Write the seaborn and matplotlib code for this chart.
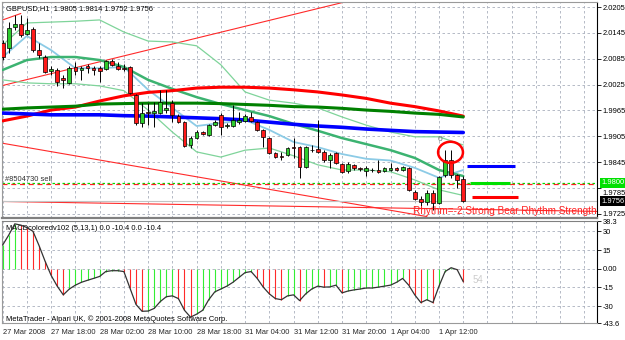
import numpy as np
import matplotlib
matplotlib.use("Agg")
import matplotlib.pyplot as plt
import matplotlib.transforms as mtransforms
from matplotlib.patches import Ellipse
import seaborn as sns

# candles, GBPUSD H1
opens = [2.0121, 2.0110, 2.0159, 2.0166, 2.0142, 2.0154, 2.0105, 2.0089, 2.0057, 2.0059,
         2.0040, 2.0029, 2.0066, 2.0059, 2.0068, 2.0063, 2.0063, 2.0061, 2.0080, 2.0068,
         2.0063, 2.0066, 2.0001, 1.9936, 1.9961, 1.9959, 1.9959, 1.9966, 1.9982, 1.9952,
         1.9938, 1.9885, 1.9901, 1.9915, 1.9908, 1.9931, 1.9954, 1.9929, 1.9929, 1.9938,
         1.9941, 1.9950, 1.9938, 1.9920, 1.9901, 1.9866, 1.9860, 1.9862, 1.9880, 1.9880,
         1.9834, 1.9873, 1.9876, 1.9869, 1.9850, 1.9866, 1.9841, 1.9825, 1.9839, 1.9832,
         1.9825, 1.9827, 1.9827, 1.9825, 1.9827, 1.9832, 1.9827, 1.9832, 1.9776, 1.9760,
         1.9753, 1.9774, 1.9751, 1.9815, 1.9850, 1.9815, 1.9805]
highs = [2.0128, 2.0170, 2.0186, 2.0186, 2.0179, 2.0159, 2.0121, 2.0094, 2.0068, 2.0063,
         2.0047, 2.0068, 2.0077, 2.0068, 2.0073, 2.0068, 2.0068, 2.0082, 2.0084, 2.0077,
         2.0073, 2.0068, 2.0003, 1.9982, 1.9982, 1.9985, 2.0013, 2.0013, 1.9989, 1.9957,
         1.9940, 1.9906, 1.9920, 1.9917, 1.9934, 1.9943, 1.9959, 1.9936, 1.9978, 1.9961,
         1.9957, 1.9961, 1.9940, 1.9922, 1.9904, 1.9869, 1.9869, 1.9880, 1.9901, 1.9882,
         1.9882, 1.9885, 1.9943, 1.9873, 1.9866, 1.9869, 1.9843, 1.9846, 1.9841, 1.9834,
         1.9836, 1.9832, 1.9850, 1.9834, 1.9843, 1.9834, 1.9836, 1.9834, 1.9781, 1.9767,
         1.9781, 1.9781, 1.9813, 1.9873, 1.9873, 1.9818, 1.9814]
lows = [2.0082, 2.0098, 2.0152, 2.0135, 2.0140, 2.0101, 2.0087, 2.0052, 2.0047, 2.0022,
        2.0017, 2.0026, 2.0047, 2.0036, 2.0052, 2.0047, 2.0031, 2.0059, 2.0068, 2.0059,
        2.0057, 2.0003, 1.9931, 1.9927, 1.9931, 1.9927, 1.9957, 1.9959, 1.9938, 1.9936,
        1.9880, 1.9878, 1.9899, 1.9908, 1.9906, 1.9929, 1.9908, 1.9924, 1.9927, 1.9934,
        1.9938, 1.9938, 1.9917, 1.9880, 1.9864, 1.9855, 1.9850, 1.9860, 1.9855, 1.9809,
        1.9832, 1.9869, 1.9866, 1.9846, 1.9832, 1.9841, 1.9820, 1.9820, 1.9827, 1.9825,
        1.9813, 1.9823, 1.9820, 1.9823, 1.9825, 1.9825, 1.9825, 1.9778, 1.9757, 1.9739,
        1.9746, 1.9734, 1.9748, 1.9811, 1.9809, 1.9785, 1.9752]
closes = [2.0089, 2.0156, 2.0166, 2.0140, 2.0152, 2.0105, 2.0094, 2.0054, 2.0061, 2.0031,
          2.0036, 2.0063, 2.0057, 2.0063, 2.0063, 2.0059, 2.0057, 2.0080, 2.0071, 2.0061,
          2.0061, 2.0006, 1.9936, 1.9959, 1.9959, 1.9964, 1.9985, 1.9971, 1.9954, 1.9938,
          1.9883, 1.9901, 1.9915, 1.9910, 1.9931, 1.9938, 1.9927, 1.9931, 1.9943, 1.9943,
          1.9952, 1.9941, 1.9920, 1.9904, 1.9866, 1.9857, 1.9858, 1.9878, 1.9879, 1.9834,
          1.9880, 1.9874, 1.9869, 1.9850, 1.9862, 1.9843, 1.9822, 1.9841, 1.9832, 1.9829,
          1.9832, 1.9828, 1.9822, 1.9832, 1.9832, 1.9827, 1.9834, 1.9781, 1.9760, 1.9753,
          1.9774, 1.9751, 1.9811, 1.9850, 1.9815, 1.9804, 1.9756]

# indicator lines, sampled every 4 bars
ma_bars = list(range(0, 77, 4))
red_ma = [1.9941, 1.9952, 1.9966, 1.9973, 1.9987, 1.9999, 2.0007, 2.0011, 2.0017, 2.0019,
          2.0019, 2.0017, 2.0013, 2.0008, 2.0001, 1.9993, 1.9982, 1.9974, 1.9964, 1.9952]
green_ma = [1.9968, 1.9971, 1.9973, 1.9975, 1.9980, 1.9981, 1.9982, 1.9982, 1.9982, 1.9981,
            1.9979, 1.9977, 1.9974, 1.9973, 1.9970, 1.9966, 1.9963, 1.9959, 1.9956, 1.9950]
blue_ma = [1.9959, 1.9957, 1.9955, 1.9955, 1.9955, 1.9953, 1.9952, 1.9950, 1.9948, 1.9946,
           1.9943, 1.9938, 1.9933, 1.9929, 1.9926, 1.9922, 1.9919, 1.9916, 1.9915, 1.9914]
fast_ma = [2.0089, 2.0138, 2.0105, 2.0063, 2.0063, 2.0066, 2.0013, 1.9971, 1.9929, 1.9936,
           1.9943, 1.9920, 1.9892, 1.9880, 1.9864, 1.9853, 1.9849, 1.9832, 1.9809, 1.9827]
mid_ma = [2.0059, 2.0082, 2.0089, 2.0089, 2.0082, 2.0066, 2.0036, 2.0015, 1.9996, 1.9980,
          1.9966, 1.9952, 1.9934, 1.9918, 1.9901, 1.9887, 1.9873, 1.9855, 1.9827, 1.9813]
band_up = [2.0117, 2.0168, 2.0170, 2.0172, 2.0175, 2.0147, 2.0126, 2.0124, 2.0115, 2.0071,
           2.0008, 1.9989, 1.9982, 1.9971, 1.9950, 1.9931, 1.9915, 1.9904, 1.9904, 1.9885]
band_lo = [2.0036, 2.0029, 2.0027, 2.0027, 2.0022, 2.0011, 1.9966, 1.9915, 1.9869, 1.9857,
           1.9873, 1.9878, 1.9860, 1.9839, 1.9827, 1.9827, 1.9823, 1.9804, 1.9781, 1.9768]

# trend lines drawn on the chart: (bar0, price0, bar1, price1)
trend_lines = [(0, 2.0023, 58, 2.0222),
               (0, 2.0175, 3, 2.0190),
               (0, 1.9889, 70, 1.9719),
               (0, 1.9754, 98, 1.9731)]

# short level marks on the right
level_prices = [1.9836, 1.9796, 1.9765]
level_start = [76.6, 77.1, 77.4]
level_end = [84.5, 83.7, 85.0]
level_colors = ['#0000ff', '#00e000', '#ff0000']

macd = [19, 27, 36, 35, 33, 30, 18.6, 6, -5.4, -14,
        -21, -16.3, -13.2, -10.9, -9.3, -7.8, -6.2, -2.3, -1.6, -1.6,
        -2.3, -15.5, -28.7, -34.2, -34, -31.9, -26.4, -22.5, -21.8, -24,
        -33.4, -38.9, -36.5, -33.4, -24.9, -18.6, -16.3, -14, -10.9, -7,
        -3.1, -2.3, -7.8, -14.8, -20.2, -24, -24.9, -21.8, -21, -25.6,
        -20.2, -16.3, -14, -14.8, -14.6, -13.2, -19.4, -17.9, -17, -16.3,
        -15.5, -15.5, -14.8, -14, -13.2, -10.9, -7.8, -13.2, -21, -27.2,
        -24.9, -27.2, -14, -2.3, 0.8, -0.8, -10.4]

time_labels = ['27 Mar 2008', '27 Mar 18:00', '28 Mar 02:00', '28 Mar 10:00', '28 Mar 18:00',
               '31 Mar 04:00', '31 Mar 12:00', '31 Mar 20:00', '1 Apr 04:00', '1 Apr 12:00']
price_ticks = [2.0205, 2.0145, 2.0085, 2.0025, 1.9965, 1.9905, 1.9845, 1.9785, 1.9725]
macd_ticks = [38.3, 30, 15, 0, -15, -30, -43.6]
macd_tick_labels = ['38.3', '30', '15', '0.00', '-15', '-30', '-43.6']

sns.set_style("white")
plt.rcParams['font.family'] = ['Liberation Sans', 'DejaVu Sans']
plt.rcParams['font.size'] = 5.4

FS = 5.4
GRID = '#a9b0bd'
fig = plt.figure(figsize=(6.25, 3.4), dpi=100)
ax = fig.add_axes([2 / 625, 1 - 218 / 340, 595 / 625, 216 / 340])
ax2 = fig.add_axes([2 / 625, 1 - 323 / 340, 595 / 625, 102 / 340])

bars = np.arange(len(closes))
o = np.array(opens)
c = np.array(closes)

for a in (ax, ax2):
    a.set_xlim(-0.11, 98.07)
    a.grid(True, which='both', color=GRID, ls=(0, (3, 3)), lw=0.6)
    a.set_axisbelow(True)
    for side in ['left', 'top', 'bottom']:
        a.spines[side].set_color('#9a9a9a')
        a.spines[side].set_linewidth(0.8)
    a.spines['right'].set_color('black')
    a.spines['right'].set_linewidth(0.8)
    a.yaxis.tick_right()
    a.tick_params(axis='y', length=3, width=0.6, pad=1.2, labelsize=FS, colors='black')
ax.spines['bottom'].set_linewidth(1.6)
ax.spines['bottom'].set_color('#808080')
ax2.spines['top'].set_color('#808080')

# ---- main price panel ----
ax.set_ylim(1.97157, 2.02166)
ax.set_yticks(price_ticks)
ax.set_yticklabels([f'{p:.4f}' for p in price_ticks])
ax.set_xticks(range(0, 99, 4))
ax.tick_params(axis='x', length=0, labelbottom=False)
# MetaTrader pushes the 1.9785 label down below the order label
shift = mtransforms.ScaledTranslation(0, -3.5 / 72, fig.dpi_scale_trans)
for lbl in ax.get_yticklabels():
    if lbl.get_text() == '1.9785':
        lbl.set_transform(lbl.get_transform() + shift)

for b0, p0, b1, p1 in trend_lines:
    ax.plot([b0, b1], [p0, p1], color='#ff2a2a', lw=0.8, zorder=2)

ax.axhline(closes[-1], color='#c4c4c4', lw=0.8, zorder=2)
ax.axhline(1.9798, color='#00dd00', ls=(0, (2, 2)), lw=0.9, zorder=2)
ax.axhline(1.9795, color='#ff2020', ls=(0, (4, 3)), lw=0.9, zorder=2)

sns.lineplot(x=ma_bars, y=band_up, ax=ax, color='#7fd49a', lw=0.9, zorder=3)
sns.lineplot(x=ma_bars, y=band_lo, ax=ax, color='#7fd49a', lw=0.9, zorder=3)
sns.lineplot(x=ma_bars, y=fast_ma, ax=ax, color='#8ccbe6', lw=1.3, zorder=3)
sns.lineplot(x=ma_bars, y=mid_ma, ax=ax, color='#3cb371', lw=1.8, zorder=3)
sns.lineplot(x=ma_bars, y=red_ma, ax=ax, color='#ff0000', lw=2.2, zorder=3)
sns.lineplot(x=ma_bars, y=green_ma, ax=ax, color='#008000', lw=2.2, zorder=3)
sns.lineplot(x=ma_bars, y=blue_ma, ax=ax, color='#0000ff', lw=2.6, zorder=3)

up = c >= o
body_colors = np.where(up, '#2ecc2e', '#ff1a1a')
ax.vlines(bars, lows, highs, color='black', lw=0.7, zorder=4)
ax.bar(bars, np.maximum(np.abs(c - o), 0.00008), bottom=np.minimum(o, c), width=0.62,
       color=body_colors, edgecolor='black', linewidth=0.5, zorder=5)

ax.hlines(level_prices, level_start, level_end, colors=level_colors, lw=2.2, zorder=4)

ax.add_patch(Ellipse((73.9, 1.9868), 4.1, 0.0049, fill=False, ec='#ff0000', lw=1.8, zorder=6))
ax.text(72.2, 1.9897, '0', color='#707070', fontsize=6, ha='center', va='center', zorder=6)

ax.text(0.006, 0.972, 'GBPUSD,H1  1.9805 1.9814 1.9752 1.9756', transform=ax.transAxes,
        ha='left', va='center', fontsize=FS, color='black')
ax.text(0.4, 1.9806, '#8504730 sell', ha='left', va='center', fontsize=FS, color='#303030')
ax.text(67.7, 1.9732, 'Rhythm=-2 Strong Bear Rhythm Strength', ha='left', va='center',
        fontsize=7.2, color='#ff2020', clip_on=True, zorder=7)

tr = mtransforms.blended_transform_factory(ax.transAxes, ax.transData)
ax.text(1.007, 1.9797, '1.9800', transform=tr, ha='left', va='center', fontsize=FS,
        color='white', bbox=dict(boxstyle='square,pad=0.2', fc='#00e000', ec='none'))
ax.text(1.007, 1.9754, '1.9756', transform=tr, ha='left', va='center', fontsize=FS,
        color='white', bbox=dict(boxstyle='square,pad=0.2', fc='black', ec='none'))

# ---- MACD panel ----
m = np.array(macd)
rising = np.concatenate([[True], np.diff(m) >= 0])
ax2.vlines(bars, 0, m, colors=np.where(rising, '#33ee33', '#ff2a2a'), lw=0.8, zorder=3)
sns.lineplot(x=bars, y=macd, ax=ax2, color='#333333', lw=0.9, zorder=4)

ax2.set_ylim(-43.6, 38.3)
ax2.set_yticks(macd_ticks)
ax2.set_yticklabels(macd_tick_labels)
ax2.set_xticks(list(range(0, 73, 8)))
ax2.set_xticklabels(time_labels)
ax2.set_xticks(list(range(4, 99, 8)) + list(range(80, 99, 8)), minor=True)
ax2.tick_params(axis='x', which='major', length=3, width=0.6, pad=1.5, labelsize=FS)
ax2.tick_params(axis='x', which='minor', length=0)
for lbl in ax2.get_xticklabels():
    lbl.set_ha('left')

ax2.text(0.006, 0.93, 'MACDcoloredv102 (5,13,1) 0.0 -10.4 0.0 -10.4', transform=ax2.transAxes,
         ha='left', va='center', fontsize=FS, color='black')
ax2.text(0.006, 0.04, 'MetaTrader - Alpari UK, \u00a9 2001-2008 MetaQuotes Software Corp.',
         transform=ax2.transAxes, ha='left', va='center', fontsize=FS, color='black')
ax2.text(78.5, -9, '54', ha='center', va='center', fontsize=7, color='#cccccc')
for a in (ax, ax2):
    a.set_xlabel('')
    a.set_ylabel('')

fig.savefig('out.png', dpi=100)
